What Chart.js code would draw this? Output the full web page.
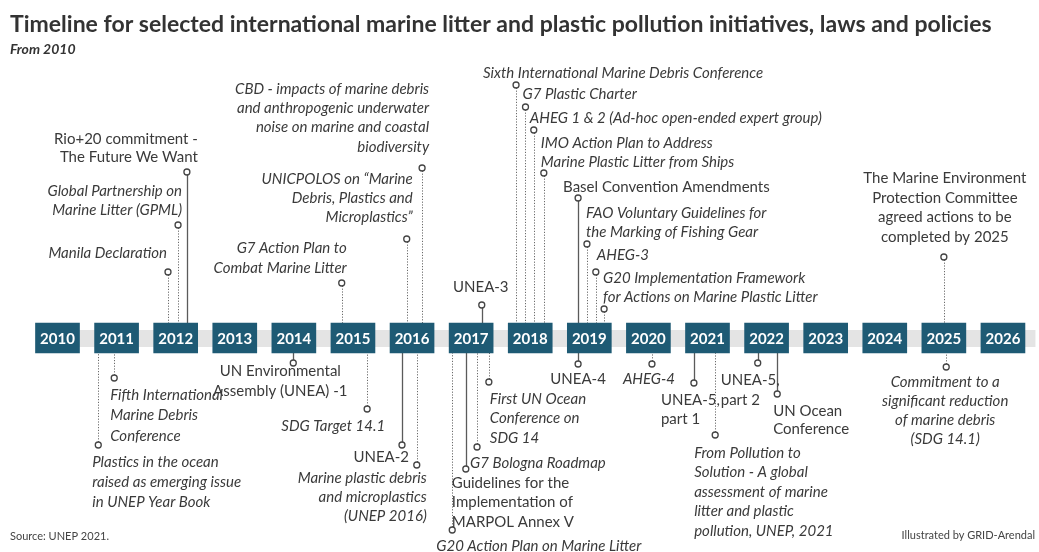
<!DOCTYPE html>
<html>
<head>
<meta charset="utf-8">
<script src="https://cdn.jsdelivr.net/npm/chart.js@4.4.1/dist/chart.umd.min.js"></script>
<style>
  html, body { margin: 0; padding: 0; background: #fff; }
  canvas { display: block; }
</style>
</head>
<body>
<canvas id="timeline" width="1039" height="552"></canvas>
<script>
// years shown as boxes on the axis
var years = [2010, 2011, 2012, 2013, 2014, 2015, 2016, 2017, 2018, 2019, 2020, 2021, 2022, 2023, 2024, 2025, 2026];

// events: position along the timeline (year) and height of the marker (+ above, - below)
var eventYears = [
  2011.87, 2012.04, 2012.19, 2014.81, 2015.91, 2016.17, 2017.18, 2017.76,
  2017.92, 2018.06, 2018.23, 2018.81, 2018.96, 2019.11, 2019.25, 2025.00,
  2010.69, 2010.96, 2013.99, 2015.24, 2015.83, 2016.08, 2016.68, 2016.91,
  2017.10, 2017.30, 2018.81, 2020.06, 2020.77, 2021.13, 2021.85, 2022.18, 2025.04
];
var eventHeights = [
  66, 113, 166, 55, 99, 170, 33, 253,
  231, 208, 165, 140, 94, 66, 29, 81,
  -107, -40, -25, -71, -107, -127, -192, -131,
  -109, -44, -26, -26, -45, -97, -25, -56, -29
];
// 'meeting' = upright text, solid stem; 'publication' = italic text, dotted stem; 'target' = upright, dotted
var eventKinds = [
  'publication', 'publication', 'meeting', 'publication', 'publication', 'publication', 'meeting', 'publication',
  'publication', 'publication', 'publication', 'meeting', 'publication', 'publication', 'publication', 'target',
  'publication', 'publication', 'meeting', 'publication', 'meeting', 'publication', 'publication', 'meeting',
  'publication', 'publication', 'meeting', 'publication', 'meeting', 'publication', 'meeting', 'meeting', 'publication'
];
var eventLabels = [
  ['Manila Declaration'],
  ['Global Partnership on', 'Marine Litter (GPML)'],
  ['Rio+20 commitment -', 'The Future We Want'],
  ['G7 Action Plan to', 'Combat Marine Litter'],
  ['UNICPOLOS on \u201cMarine', 'Debris, Plastics and', 'Microplastics\u201d'],
  ['CBD - impacts of marine debris', 'and anthropogenic underwater', 'noise on marine and coastal', 'biodiversity'],
  ['UNEA-3'],
  ['Sixth International Marine Debris Conference'],
  ['G7 Plastic Charter'],
  ['AHEG 1 & 2 (Ad-hoc open-ended expert group)'],
  ['IMO Action Plan to Address', 'Marine Plastic Litter from Ships'],
  ['Basel Convention Amendments'],
  ['FAO Voluntary Guidelines for', 'the Marking of Fishing Gear'],
  ['AHEG-3'],
  ['G20 Implementation Framework', 'for Actions on Marine Plastic Litter'],
  ['The Marine Environment', 'Protection Committee', 'agreed actions to be', 'completed by 2025'],
  ['Plastics in the ocean', 'raised as emerging issue', 'in UNEP Year Book'],
  ['Fifth International', 'Marine Debris', 'Conference'],
  ['UN Environmental', 'Assembly (UNEA) -1'],
  ['SDG Target 14.1'],
  ['UNEA-2'],
  ['Marine plastic debris', 'and microplastics', '(UNEP 2016)'],
  ['G20 Action Plan on Marine Litter'],
  ['Guidelines for the', 'Implementation of', 'MARPOL Annex V'],
  ['G7 Bologna Roadmap'],
  ['First UN Ocean', 'Conference on', 'SDG 14'],
  ['UNEA-4'],
  ['AHEG-4'],
  ['UNEA-5,', 'part 1'],
  ['From Pollution to', 'Solution - A global', 'assessment of marine', 'litter and plastic', 'pollution, UNEP, 2021'],
  ['UNEA-5,', 'part 2'],
  ['UN Ocean', 'Conference'],
  ['Commitment to a', 'significant reduction', 'of marine debris', '(SDG 14.1)']
];

// label placement relative to the marker: [align, dx, dy of first line, line height]
var labelLayout = [
  ['right', -1, -19, 19], ['right', 4, -34, 19], ['right', 11, -33, 18], ['right', 5, -35, 20],
  ['right', 6, -60, 19], ['right', 7, -79, 19.3], ['center', -1, -18, 19], ['left', -33, -12, 19],
  ['left', -3, -13, 19], ['left', -4, -12, 19], ['left', -3, -30, 19], ['left', -15, -11, 19],
  ['left', -1, -31, 19], ['left', 1, -17, 19], ['left', -1, -31, 19], ['center', 1, -79, 19.7],
  ['left', -6, 17, 20], ['left', -4, 17, 20.5], ['center', -13, 8, 20], ['right', 18, 17, 19],
  ['right', 7, 12, 19], ['right', 10, 13, 19], ['left', -16, 16, 19], ['left', -14, 14, 19.5],
  ['left', -7, 16, 19], ['left', 1, 17, 19.5], ['center', 0, 15, 19], ['center', -3, 15, 19],
  ['left', -33, 17, 19], ['left', -21, 18, 19.5], ['left', -37, 17, 20], ['left', -4, 17, 18.5],
  ['center', -1, 15, 19]
];

var boxColor = '#1e5a74';
var textColor = '#3a3a3a';
var bodyFont = 'Lato';

var timelinePlugin = {
  id: 'timeline',
  beforeDatasetsDraw: function (chart) {
    var ctx = chart.ctx;
    var xs = chart.scales.x, ys = chart.scales.y;
    ctx.save();
    // grey band behind the year boxes
    var bx0 = xs.getPixelForValue(years[0]) - 20;
    var bx1 = xs.getPixelForValue(years[years.length - 1] + 0.55);
    ctx.fillStyle = '#e4e4e4';
    ctx.fillRect(bx0, ys.getPixelForValue(8), bx1 - bx0, ys.getPixelForValue(-9) - ys.getPixelForValue(8));
    // stems
    var y0 = ys.getPixelForValue(0);
    for (var i = 0; i < eventYears.length; i++) {
      var px = Math.round(xs.getPixelForValue(eventYears[i])) + 0.5;
      var py = ys.getPixelForValue(eventHeights[i]);
      ctx.beginPath();
      if (eventKinds[i] === 'meeting') {
        ctx.setLineDash([]);
        ctx.strokeStyle = '#5a5a5a';
        ctx.lineWidth = 1.3;
      } else {
        ctx.setLineDash([1.2, 1.6]);
        ctx.strokeStyle = '#6a6a6a';
        ctx.lineWidth = 1;
      }
      ctx.moveTo(px, py);
      ctx.lineTo(px, y0);
      ctx.stroke();
    }
    ctx.restore();
  },
  afterDatasetsDraw: function (chart) {
    var ctx = chart.ctx;
    var xs = chart.scales.x, ys = chart.scales.y;
    ctx.save();
    // year text in boxes
    ctx.fillStyle = '#ffffff';
    ctx.font = 'bold 15px ' + bodyFont;
    ctx.textAlign = 'center';
    ctx.textBaseline = 'middle';
    years.forEach(function (yr) {
      ctx.fillText(String(yr), xs.getPixelForValue(yr), ys.getPixelForValue(0) + 1);
    });
    // event labels
    ctx.fillStyle = textColor;
    for (var i = 0; i < eventLabels.length; i++) {
      var px = xs.getPixelForValue(eventYears[i]);
      var py = ys.getPixelForValue(eventHeights[i]);
      var lay = labelLayout[i];
      var italic = eventKinds[i] === 'publication';
      ctx.font = (italic ? 'italic ' : '') + '15px ' + bodyFont;
      ctx.textAlign = lay[0];
      ctx.textBaseline = 'middle';
      eventLabels[i].forEach(function (line, j) {
        ctx.fillText(line, px + lay[1], py + lay[2] + j * lay[3]);
      });
    }
    // title, subtitle, credits
    ctx.textAlign = 'left';
    ctx.textBaseline = 'alphabetic';
    ctx.fillStyle = '#333333';
    ctx.font = 'bold 23px ' + bodyFont;
    ctx.fillText('Timeline for selected international marine litter and plastic pollution initiatives, laws and policies', 10, 32, 1002);
    ctx.font = 'italic bold 14px ' + bodyFont;
    ctx.fillText('From 2010', 10, 54);
    ctx.font = '11px ' + bodyFont;
    ctx.fillStyle = '#444444';
    ctx.fillText('Source: UNEP 2021.', 10, 540);
    ctx.textAlign = 'right';
    ctx.fillText('Illustrated by GRID-Arendal', 1035, 539);
    ctx.restore();
  }
};

var chart = new Chart('timeline', {
  data: {
    datasets: [
      {
        type: 'scatter',
        order: 0,
        data: eventYears.map(function (x, i) { return { x: x, y: eventHeights[i] }; }),
        pointRadius: 3,
        pointBackgroundColor: '#ffffff',
        pointBorderColor: '#444444',
        pointBorderWidth: 1.3
      },
      {
        type: 'bar',
        order: 1,
        data: years.map(function (yr) { return { x: yr, y: [-15, 15] }; }),
        backgroundColor: boxColor,
        barThickness: 44,
        grouped: false
      }
    ]
  },
  options: {
    responsive: false,
    animation: false,
    layout: { padding: 0, autoPadding: false },
    plugins: { legend: { display: false }, tooltip: { enabled: false } },
    scales: {
      x: { type: 'linear', display: false, offset: false, min: 2009.027, max: 2026.61 },
      y: { type: 'linear', display: false, min: -214, max: 338 }
    }
  },
  plugins: [timelinePlugin]
});
</script>
</body>
</html>
